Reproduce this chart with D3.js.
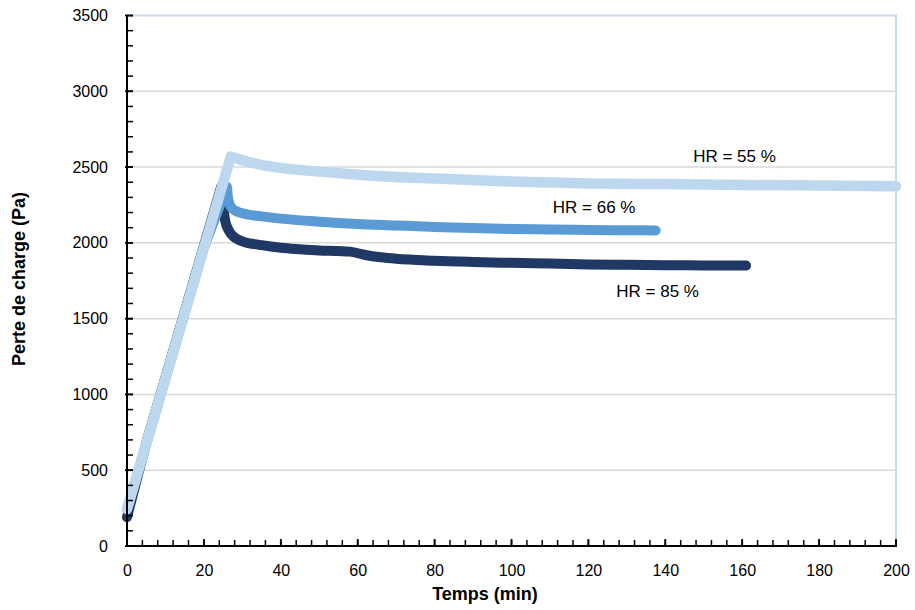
<!DOCTYPE html>
<html>
<head>
<meta charset="utf-8">
<script src="https://cdn.jsdelivr.net/npm/d3@7"></script>
<style>
  html, body { margin: 0; padding: 0; background: #fff; }
  svg { display: block; font-family: "Liberation Sans", Arial, sans-serif; }
</style>
</head>
<body>
<svg id="chart" width="915" height="610"></svg>
<script>
// ---- Data ----
const xTicks = [0, 20, 40, 60, 80, 100, 120, 140, 160, 180, 200];
const yTicks = [0, 500, 1000, 1500, 2000, 2500, 3000, 3500];

const seriesNames = ["HR = 85 %", "HR = 66 %", "HR = 55 %"];
const seriesColors = ["#203864", "#5b9bd5", "#bdd7ee"];

const hr85Time = [0, 5, 24.5, 25, 25.5, 26.5, 28, 30, 35, 40, 45, 50, 55, 58, 62, 66, 70, 80, 90, 100, 110, 120, 130, 140, 150, 161];
const hr85Dp   = [190, 680, 2370, 2250, 2150, 2080, 2035, 2010, 1985, 1968, 1958, 1950, 1946, 1942, 1920, 1905, 1895, 1882, 1874, 1868, 1863, 1858, 1855, 1853, 1851, 1850];

const hr66Time = [0, 20, 26, 26.3, 27, 28, 30, 35, 40, 50, 60, 70, 80, 90, 100, 110, 120, 130, 137.5];
const hr66Dp   = [240, 1968, 2370, 2290, 2240, 2215, 2195, 2175, 2160, 2140, 2125, 2115, 2105, 2098, 2092, 2088, 2085, 2083, 2082];

const hr55Time = [0, 27, 30, 35, 40, 50, 60, 70, 80, 90, 100, 110, 120, 140, 160, 180, 200];
const hr55Dp   = [245, 2570, 2545, 2515, 2495, 2470, 2450, 2435, 2425, 2415, 2405, 2398, 2392, 2388, 2382, 2378, 2373];

// number of points forming the straight filling ramp (up to the peak)
const rampPoints = [3, 3, 2];

const labelText = ["HR = 85 %", "HR = 66 %", "HR = 55 %"];
const labelX = [138, 121.5, 158];
const labelY = [1641, 2195, 2531];

// ---- Layout ----
const svg = d3.select("#chart");
const m = { left: 127, top: 15.5, right: 896, bottom: 546 };

const x = d3.scaleLinear().domain([0, 200]).range([m.left, m.right]);
const y = d3.scaleLinear().domain([0, 3500]).range([m.bottom, m.top]);

// gridlines
svg.append("g").selectAll("line").data(yTicks.filter(v => v > 0 && v < 3500)).join("line")
  .attr("x1", m.left).attr("x2", m.right)
  .attr("y1", d => y(d)).attr("y2", d => y(d))
  .attr("stroke", "#d9d9d9").attr("stroke-width", 1.5);

// plot border top/right (light blue)
svg.append("path")
  .attr("d", `M${m.left},${y(3500)} H${x(200)} V${y(0)}`)
  .attr("fill", "none").attr("stroke", "#c5dcf1").attr("stroke-width", 2);

// series
const series = [
  { t: hr85Time, v: hr85Dp, w: 10 },
  { t: hr66Time, v: hr66Dp, w: 10 },
  { t: hr55Time, v: hr55Dp, w: 10.5 }
];
const rampLine = d3.line().x(d => x(d[0])).y(d => y(d[1])).curve(d3.curveLinear);
const decayLine = d3.line().x(d => x(d[0])).y(d => y(d[1])).curve(d3.curveMonotoneX);
series.forEach((s, i) => {
  const pts = s.t.map((t, k) => [t, s.v[k]]);
  const k = rampPoints[i];
  const g = svg.append("g")
    .attr("fill", "none")
    .attr("stroke", seriesColors[i])
    .attr("stroke-width", s.w)
    .attr("stroke-linecap", "round")
    .attr("stroke-linejoin", "round");
  const dPath = rampLine(pts.slice(0, k)) + decayLine(pts.slice(k - 1)).replace(/^M/, "L");
  g.append("path").attr("d", dPath);
});

// axes
const fmt = d3.format("d");
const xAxis = d3.axisBottom(x).tickValues(xTicks).tickFormat(fmt).tickSize(0).tickPadding(19);
const gx = svg.append("g").attr("transform", `translate(0,${m.bottom})`).call(xAxis);
gx.select(".domain").remove();
gx.selectAll("text").attr("font-size", 16).attr("fill", "#000")
  .attr("font-family", "Liberation Sans, Arial, sans-serif");

const yAxis = d3.axisLeft(y).tickValues(yTicks).tickFormat(fmt).tickSize(0).tickPadding(19);
const gy = svg.append("g").attr("transform", `translate(${m.left},0)`).call(yAxis);
gy.select(".domain").remove();
gy.selectAll("text").attr("font-size", 16).attr("fill", "#000")
  .attr("font-family", "Liberation Sans, Arial, sans-serif");

// minor ticks
const xMinor = d3.range(0, 201, 4);
svg.append("g").selectAll("line").data(xMinor).join("line")
  .attr("x1", d => x(d)).attr("x2", d => x(d))
  .attr("y1", m.bottom).attr("y2", m.bottom - 6)
  .attr("stroke", "#000").attr("stroke-width", 1.5);
svg.append("g").selectAll("line").data(xTicks).join("line")
  .attr("x1", d => x(d)).attr("x2", d => x(d))
  .attr("y1", m.bottom + 1).attr("y2", m.bottom - 7)
  .attr("stroke", "#000").attr("stroke-width", 1.8);

const yMinor = d3.range(0, 3501, 100);
svg.append("g").selectAll("line").data(yMinor).join("line")
  .attr("x1", m.left).attr("x2", m.left + 6)
  .attr("y1", d => y(d)).attr("y2", d => y(d))
  .attr("stroke", "#000").attr("stroke-width", 1.5);
svg.append("g").selectAll("line").data(yTicks).join("line")
  .attr("x1", m.left - 2).attr("x2", m.left + 6)
  .attr("y1", d => y(d)).attr("y2", d => y(d))
  .attr("stroke", "#000").attr("stroke-width", 1.8);

// axis lines
svg.append("line").attr("x1", m.left).attr("x2", m.left)
  .attr("y1", y(3500)).attr("y2", m.bottom + 1)
  .attr("stroke", "#000").attr("stroke-width", 2);
svg.append("line").attr("x1", m.left - 1).attr("x2", m.right)
  .attr("y1", m.bottom).attr("y2", m.bottom)
  .attr("stroke", "#000").attr("stroke-width", 2);

// series labels
labelText.forEach((t, i) => {
  svg.append("text")
    .attr("x", x(labelX[i])).attr("y", y(labelY[i]))
    .attr("text-anchor", "middle")
    .attr("font-size", 17).attr("fill", "#000")
    .text(t);
});

// axis titles
svg.append("text").attr("x", 485).attr("y", 600)
  .attr("text-anchor", "middle").attr("font-size", 18).attr("font-weight", "bold")
  .text("Temps (min)");
svg.append("text")
  .attr("transform", "translate(25,279) rotate(-90)")
  .attr("text-anchor", "middle").attr("font-size", 18).attr("font-weight", "bold")
  .text("Perte de charge (Pa)");
</script>
</body>
</html>
